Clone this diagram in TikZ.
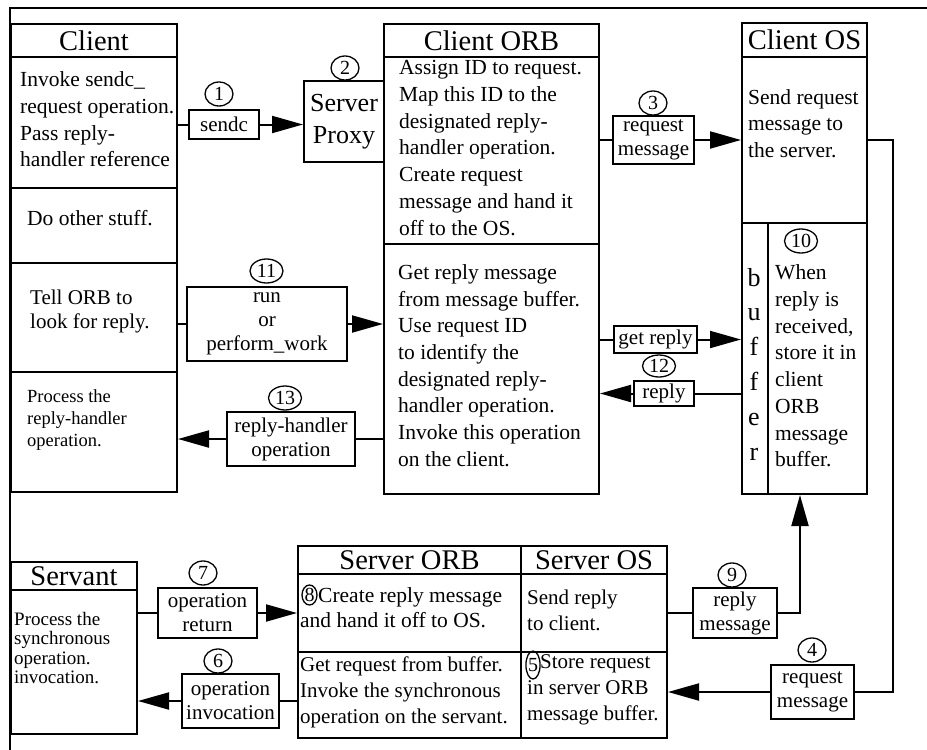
\documentclass[tikz,border=0pt]{standalone}
\usepackage{fontspec}
\setmainfont{Liberation Serif}
\usetikzlibrary{arrows.meta,shapes.geometric}

% \mkcell[options]{name}{x1}{y1}{x2}{y2}{text}: a ruled box from (x1,y1) to (x2,y2)
\newcommand\mkcell[7][]{\node[cell,#1,minimum width={#5-#3},minimum height={#6-#4}] (#2) at (#3,#4) {#7};}

\begin{document}
\begin{tikzpicture}[x=1pt,y=-1pt,
  cell/.style={draw,line width=2pt,inner sep=0pt,anchor=north west},
  title/.style={font=\fontsize{28.5}{30}\selectfont},
  lab/.style={cell,align=center,font=\fontsize{21}{24}\selectfont},
  body/.style={anchor=west,align=left,inner sep=0pt,font=\fontsize{21.5}{26.7}\selectfont},
  num/.style={draw,ellipse,line width=1.3pt,inner sep=0pt,minimum width=28pt,minimum height=24pt,font=\fontsize{20}{20}\selectfont},
  numw/.style={num,minimum width=33pt},
  conn/.style={line width=2pt},
  arr/.style={conn,-{Triangle[length=31pt,width=17pt]}}]

\useasboundingbox (0,0) rectangle (927,750);

% outer frame (top and left rules)
\coordinate (frameB) at (10,750);
\coordinate (frameC) at (10,7.5);
\coordinate (frameR) at (927,7.5);
\draw[conn] (frameB) -- (frameC) -- (frameR);

% ---------------- Client ----------------
\mkcell[title]{clT}{10}{23}{176}{56}{Client}
\mkcell{cl1}{10}{56}{176}{187}{}
\mkcell{cl2}{10}{187}{176}{262}{}
\mkcell{cl3}{10}{262}{176}{371}{}
\mkcell{cl4}{10}{371}{176}{491}{}
\node[body] (cl1t) at (20,119.5) {Invoke sendc\_\\request operation.\\Pass reply-\\handler reference};
\node[body] (cl2t) at (27,218) {Do other stuff.};
\node[body,font=\fontsize{21}{24}\selectfont] (cl3t) at (30,311) {Tell ORB to\\look for reply.};
\node[body,font=\fontsize{18.5}{22}\selectfont] (cl4t) at (27,420) {Process the\\reply-handler\\operation.};

% ---------------- Server proxy ----------------
\mkcell[font=\fontsize{26}{32}\selectfont,align=center]{proxy}{303}{80}{383}{161}{Server\\Proxy}

% ---------------- Client ORB ----------------
\mkcell[title]{corbT}{383}{23}{598}{56}{Client ORB}
\mkcell{corb1}{383}{56}{598}{243}{}
\mkcell{corb2}{383}{243}{598}{493}{}
\node[body] (corb1t) at (399,148) {Assign ID to request.\\Map this ID to the\\designated reply-\\handler operation.\\Create request\\message and hand it\\off to the OS.};
\node[body] (corb2t) at (398,365.5) {Get reply message\\from message buffer.\\Use request ID\\to identify the\\designated reply-\\handler operation.\\Invoke this operation\\on the client.};

% ---------------- Client OS ----------------
\mkcell[title]{cosT}{741}{22}{866}{56}{Client OS}
\mkcell{cos1}{741}{56}{866}{222}{}
\mkcell{bufL}{741}{222}{767}{493}{}
\mkcell{bufR}{767}{222}{866}{493}{}
\node[body] (cos1t) at (748,123.5) {Send request\\message to\\the server.};
\node[align=center,inner sep=0pt,font=\fontsize{26}{34.8}\selectfont] (buft) at (754,364) {b\\u\\f\\f\\e\\r};
\node[body] (bufRt) at (775,366) {When\\reply is\\received,\\store it in\\client\\ORB\\message\\buffer.};
\node[numw] (n10) at (801,241) {10};

% ---------------- Servant ----------------
\mkcell[title]{servT}{10}{561}{136}{589}{Servant}
\mkcell{serv1}{10}{589}{136}{733}{}
\node[body,font=\fontsize{19}{19.5}\selectfont] (serv1t) at (14,648) {Process the\\synchronous\\operation.\\invocation.};

% ---------------- Server ORB / Server OS ----------------
\mkcell[title]{sorbT}{297}{545}{520}{573}{Server ORB}
\mkcell{sorb1}{297}{573}{520}{651}{}
\mkcell{sorb2}{297}{651}{520}{737}{}
\mkcell[title]{sosT}{520}{545}{666}{573}{Server OS}
\mkcell{sos1}{520}{573}{666}{651}{}
\mkcell{sos2}{520}{651}{666}{737}{}
\node[body,font=\fontsize{21.5}{25.5}\selectfont] (sorb1t) at (300,607.5) {\hspace*{18pt}Create reply message\\and hand it off to OS.};
\node[num,minimum width=15pt,minimum height=20pt] (n8) at (309.5,595) {8};
\node[body,font=\fontsize{21}{26}\selectfont] (sorb2t) at (300,692.5) {Get request from buffer.\\Invoke the synchronous\\operation on the servant.};
\node[body,font=\fontsize{21}{26}\selectfont] (sos1t) at (527,610) {Send reply\\to client.};
\node[body,font=\fontsize{21}{26}\selectfont] (sos2t) at (527,690) {\hspace*{13pt}Store request\\in server ORB\\message buffer.};
\node[num,minimum width=13pt,minimum height=28pt] (n5) at (533,665) {5};

% ---------------- message labels ----------------
\mkcell[lab]{lsendc}{188}{109}{258}{138}{sendc}
\node[num] (n1) at (219,94) {1};
\node[num] (n2) at (345,68) {2};
\mkcell[lab]{lreq3}{612}{115}{693}{163}{request\\message}
\node[num] (n3) at (653,103) {3};
\mkcell[lab]{lrun}{186}{286}{346}{360}{run\\or\\perform\_work}
\node[numw] (n11) at (266.5,271) {11};
\mkcell[lab]{lrh}{226}{411}{354}{465}{reply-handler\\operation}
\node[numw] (n13) at (285,398) {13};
\mkcell[lab]{lget}{613}{325}{696}{352}{get reply}
\mkcell[lab]{lreply}{633}{380}{693}{405}{reply}
\node[numw,minimum height=22pt] (n12) at (659,366) {12};
\mkcell[lab]{lopret}{157}{587}{256}{637}{operation\\return}
\node[num] (n7) at (203,573) {7};
\mkcell[lab]{lopinv}{181}{673}{278}{727}{operation\\invocation}
\node[num] (n6) at (218,661) {6};
\mkcell[lab]{lrepmsg}{692}{587}{776}{637}{reply\\message}
\node[num] (n9) at (732,575) {9};
\mkcell[lab]{lreq4}{770}{664}{853}{718}{request\\message}
\node[num] (n4) at (812,650) {4};

% routing columns
\coordinate (rx) at (893,0);
\coordinate (ux) at (800,0);

% ---------------- connectors ----------------
\draw[conn] (cl1.east |- lsendc.west) -- (lsendc.west);
\draw[arr] (lsendc.east) -- (lsendc.east -| proxy.west);
\draw[conn] (corb1.east |- lreq3.west) -- (lreq3.west);
\draw[arr] (lreq3.east) -- (lreq3.east -| cos1.west);
\draw[conn] (cos1.east |- lreq3.east) -| (rx |- lreq4.east) -- (lreq4.east);
\draw[arr] (lreq4.west) -- (lreq4.west -| sos2.east);
\draw[conn] (sorb2.west |- lopinv.east) -- (lopinv.east);
\draw[arr] (lopinv.west) -- (lopinv.west -| serv1.east);
\draw[conn] (serv1.east |- lopret.west) -- (lopret.west);
\draw[arr] (lopret.east) -- (lopret.east -| sorb1.west);
\draw[conn] (sos1.east |- lrepmsg.west) -- (lrepmsg.west);
\draw[arr] (lrepmsg.east) -| (ux |- bufR.south);
\draw[conn] (cl3.east |- lrun.west) -- (lrun.west);
\draw[arr] (lrun.east) -- (lrun.east -| corb2.west);
\draw[conn] (corb2.west |- lrh.east) -- (lrh.east);
\draw[arr] (lrh.west) -- (lrh.west -| cl4.east);
\draw[conn] (corb2.east |- lget.west) -- (lget.west);
\draw[arr] (lget.east) -- (lget.east -| bufL.west);
\draw[conn] (bufL.west |- lreply.east) -- (lreply.east);
\draw[arr] (lreply.west) -- (lreply.west -| corb2.east);
\end{tikzpicture}
\end{document}
